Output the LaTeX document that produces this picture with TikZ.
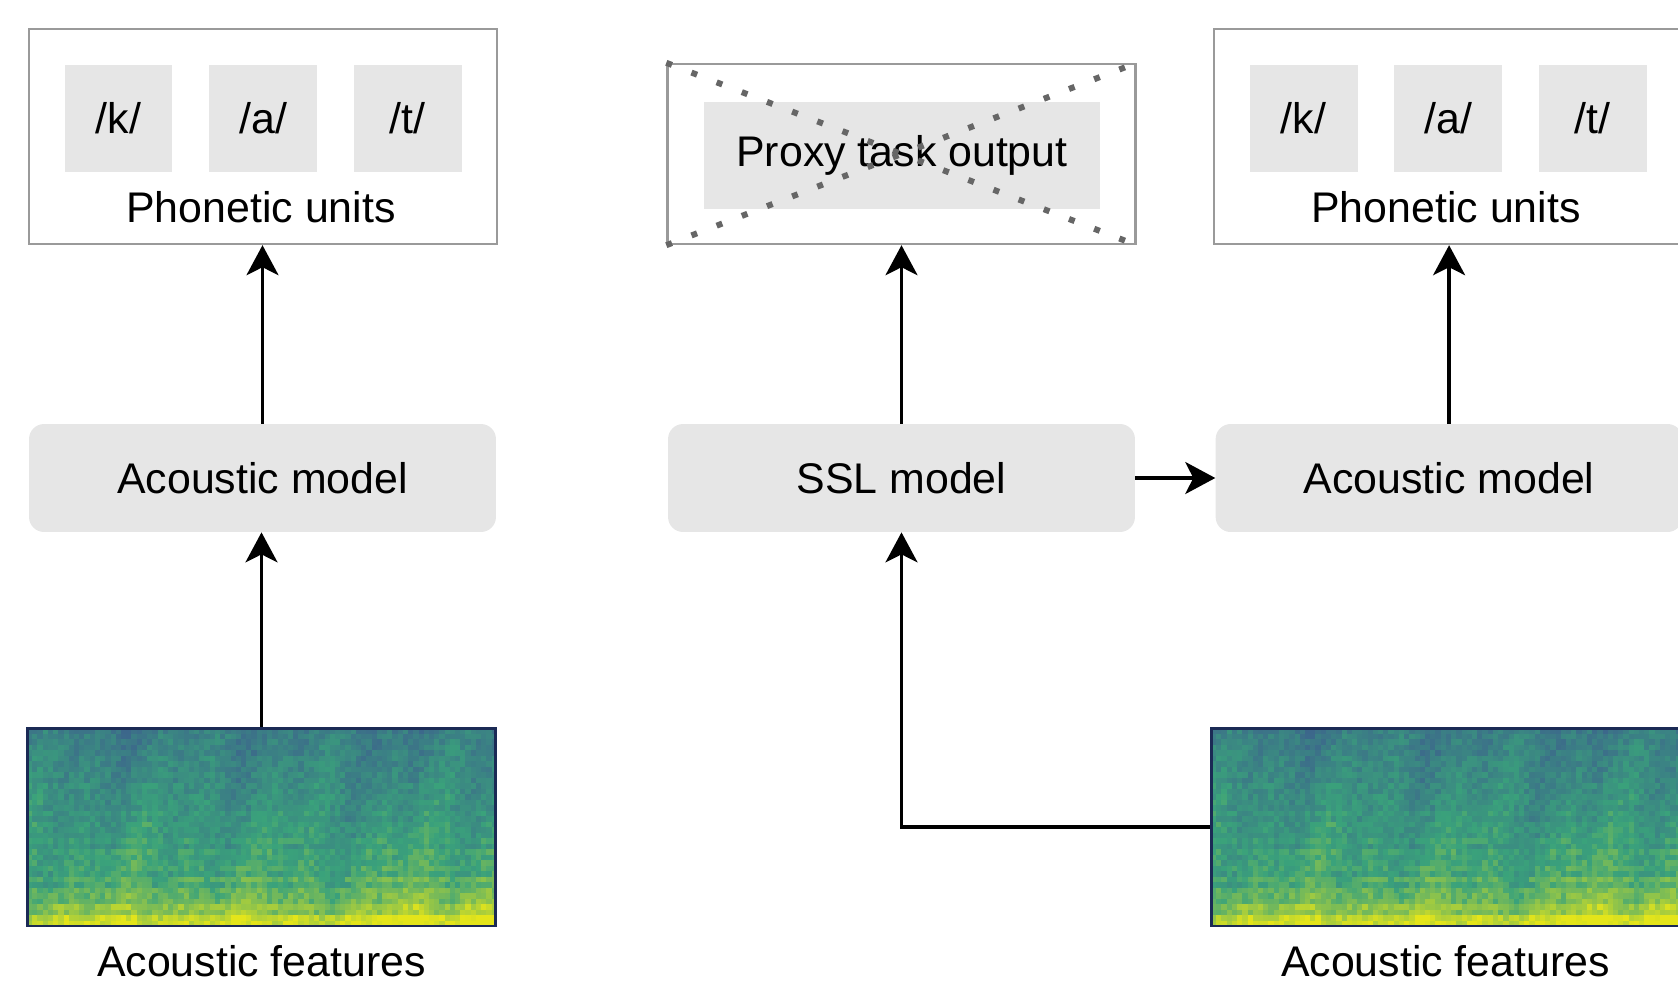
\documentclass[tikz,border=0pt]{standalone}
\usepackage{fontspec}
\setmainfont{Liberation Sans}
\usepackage{xcolor}
\usepackage{tikz}
\usetikzlibrary{arrows.meta, positioning}

\definecolor{boxgray}{HTML}{E6E6E6}
\definecolor{framegray}{HTML}{9A9A9A}
\definecolor{crossgray}{HTML}{666666}
\definecolor{specframe}{HTML}{1B2A55}
\definecolor{speclow}{HTML}{3D5690}
\definecolor{specmid}{HTML}{3AA27B}
\definecolor{spechigh}{HTML}{E4E51A}

\newcommand{\labelfont}{\fontsize{24.4}{29}\selectfont}

% fake spectrogram, #1,#2 = top left corner
\newcommand{\specgram}[2]{%
  \pgfmathsetseed{42}%
  \foreach \c in {0,...,89}{%
    \foreach \r in {0,...,35}{%
      \pgfmathsetmacro\t{\r/35}%
      \pgfmathsetmacro\v{0.26+0.34*\t+0.36*\t*\t*\t*\t*\t*\t*\t*\t*\t*\t+0.08*sin(\c*23+\r*7)*cos(\c*9)+0.06*sin(\r*150)*\t+0.18*rnd-0.09+(\c>67)*0.12*\t*\t*\t}%
      \pgfmathsetmacro\pa{min(100,max(0,\v*200))}%
      \pgfmathsetmacro\pb{min(100,max(0,(\v-0.5)*200))}%
      \colorlet{cellA}{specmid!\pa!speclow}%
      \colorlet{cellB}{spechigh!\pb!cellA}%
      \fill[cellB] (#1+\c*5.22,#2+\r*5.5) rectangle ++(5.3,5.6);%
    }%
  }%
}

\begin{document}
\begin{tikzpicture}[
    x=0.02cm, y=-0.02cm,
    every node/.style={font=\labelfont},
    unitbox/.style={rectangle, draw=framegray, line width=1.4pt, minimum width=9.36cm, minimum height=4.3cm},
    phone/.style={rectangle, fill=boxgray, minimum width=2.16cm, minimum height=2.14cm},
    model/.style={rectangle, rounded corners=0.3cm, fill=boxgray, minimum width=9.34cm, minimum height=2.16cm},
    spec/.style={rectangle, draw=specframe, line width=1.7pt, minimum width=9.38cm, minimum height=3.96cm},
    arrow/.style={-{Stealth[length=0.6cm, width=0.64cm, inset=0.16cm]}, line width=1.9pt}
]

\useasboundingbox (0,0) rectangle (1678,988);
\clip (0,0) rectangle (1678,988);

% Spectrogram pictures
\specgram{27}{728}
\specgram{1211}{728}

% Left: supervised
\node[unitbox] (units_l) at (263,136.5) {};
\node[phone] (k_l) at (118.5,118.5) {/k/};
\node[phone, right=0.72cm of k_l] (a_l) {/a/};
\node[phone, right=0.72cm of a_l] (t_l) {/t/};
\node[anchor=base] (units_l_txt) at (261,222) {Phonetic units};
\node[model] (am_l) at (262.5,478) {Acoustic model};
\node[spec] (spec_l) at (261.5,827) {};
\node[anchor=base] (feat_l) at (261.5,976) {Acoustic features};

% Middle: SSL
\node[unitbox, minimum height=3.6cm] (proxy) at (901.5,154) {};
\node[rectangle, fill=boxgray, minimum width=7.92cm, minimum height=2.14cm] (proxy_out) at (902,155.5) {Proxy task output};
\node[model] (ssl) at (901.5,478) {SSL model};

% Right: SSL features
\node[unitbox] (units_r) at (1448,136.5) {};
\node[phone] (k_r) at (1303.5,118.5) {/k/};
\node[phone, right=0.72cm of k_r] (a_r) {/a/};
\node[phone, right=0.72cm of a_r] (t_r) {/t/};
\node[anchor=base] (units_r_txt) at (1446,222) {Phonetic units};
\node[model, right=1.6cm of ssl] (am_r) {Acoustic model};
\node[spec] (spec_r) at (1445.5,827) {};
\node[anchor=base] (feat_r) at (1445.5,976) {Acoustic features};

% Crossed out proxy output
\draw[crossgray, line width=0.12cm, dash pattern=on 0.12cm off 0.42cm] (proxy.north west) -- (proxy.south east);
\draw[crossgray, line width=0.12cm, dash pattern=on 0.12cm off 0.42cm] (proxy.south west) -- (proxy.north east);

% Arrows
\draw[arrow] (spec_l.north) -- (spec_l.north |- am_l.south);
\draw[arrow] (am_l.north) -- (am_l.north |- units_l.south);
\draw[arrow] (spec_r.west) -| (ssl.south);
\draw[arrow] (ssl.north) -- (ssl.north |- proxy.south);
\draw[arrow] (ssl.east) -- (am_r.west);
\draw[arrow] (am_r.north) -- (am_r.north |- units_r.south);

\end{tikzpicture}
\end{document}
